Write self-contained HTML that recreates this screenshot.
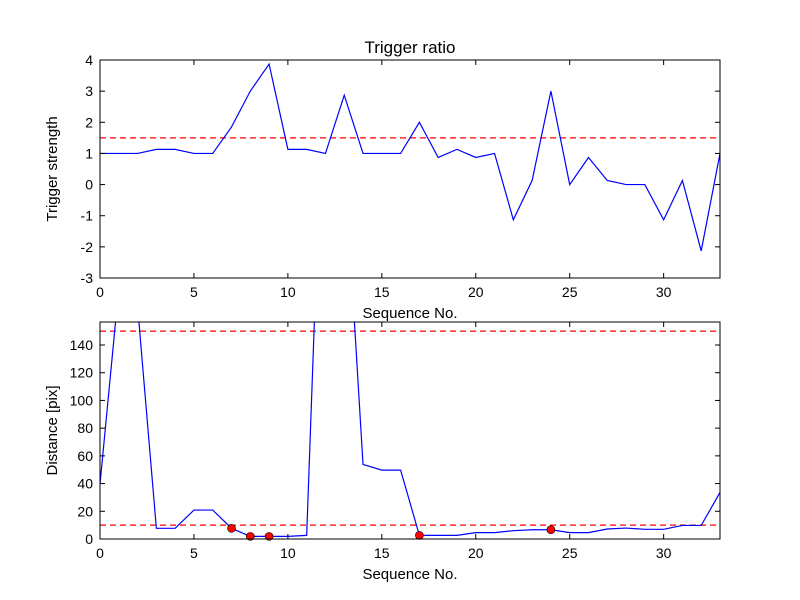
<!DOCTYPE html>
<html><head><meta charset="utf-8"><style>
body{margin:0;background:#fff}
svg{display:block;font-family:"Liberation Sans","DejaVu Sans",sans-serif}
</style></head><body>
<svg id="chart" width="800" height="600" viewBox="0 0 800 600"></svg>
<script>
const seqTop = [0,1,2,3,4,5,6,7,8,9,10,11,12,13,14,15,16,17,18,19,20,21,22,23,24,25,26,27,28,29,30,31,32,33];
const triggerStrength = [1,1,1,1.13,1.13,1,1,1.85,3,3.87,1.13,1.13,1,2.87,1,1,1,2,0.87,1.13,0.87,1,-1.13,0.13,3,0,0.87,0.13,0,0,-1.13,0.13,-2.13,1];
const triggerThreshold = 1.5;
const distance = [39.6,181,168,7.7,7.7,20.9,20.9,7.7,1.9,1.9,1.9,2.6,379,278,53.8,49.7,49.7,2.6,2.6,2.6,4.6,4.6,6,6.7,6.7,4.6,4.6,7.2,7.9,7,7,9.8,9.8,33.6];
const markerIdx = [7,8,9,17,24];
const distThresholds = [150,10];
const xTicks = [0,5,10,15,20,25,30];
const yTicksTop = [-3,-2,-1,0,1,2,3,4];
const yTicksBottom = [0,20,40,60,80,100,120,140];

const NS="http://www.w3.org/2000/svg";
const svgEl=document.getElementById('chart');
function mk(tag,attrs,parent){const e=document.createElementNS(NS,tag);for(const k in attrs)e.setAttribute(k,attrs[k]);(parent||svgEl).appendChild(e);return e;}

function panel(cfg){
  const L=cfg.L,R=cfg.R,T=cfg.T,B=cfg.B;
  const sx=v=>L+(v-cfg.xmin)/(cfg.xmax-cfg.xmin)*(R-L);
  const sy=v=>B-(v-cfg.ymin)/(cfg.ymax-cfg.ymin)*(B-T);
  const g=mk('g',{});
  
  
  const cp='clip-'+cfg.name;
  const d=mk('clipPath',{id:cp},g);mk('rect',{x:L,y:T,width:R-L,height:B-T},d);
  return Object.assign({g:g,sx:sx,sy:sy,cp:cp},cfg);
}
function axesFrame(p,yTicks,yLabel,xLabel){
  const g=p.g,sx=p.sx,sy=p.sy,L=p.L,R=p.R,T=p.T,B=p.B;
  xTicks.forEach(v=>{
    const x=sx(v);
    mk('line',{x1:x,x2:x,y1:B,y2:B-5,stroke:'#000'},g);
    mk('line',{x1:x,x2:x,y1:T,y2:T+5,stroke:'#000'},g);
    const t=mk('text',{x:x,y:B+19,'text-anchor':'middle','font-size':14},g);t.textContent=v;
    
    
  });
  yTicks.forEach(v=>{
    const y=sy(v);
    mk('line',{x1:L,x2:L+5,y1:y,y2:y,stroke:'#000'},g);
    mk('line',{x1:R,x2:R-5,y1:y,y2:y,stroke:'#000'},g);
    const t=mk('text',{x:L-7,y:y+5,'text-anchor':'end','font-size':14},g);t.textContent=v;
    
    
  });
  const f=mk('rect',{x:L,y:T,width:R-L,height:B-T,fill:'none',stroke:'#000','stroke-width':1},g);
  
  
  const yl=mk('text',{x:0,y:0,'text-anchor':'middle','font-size':15,transform:'translate('+(L-43)+','+((T+B)/2)+') rotate(-90)'},g);
  yl.textContent=yLabel;
  
  
  const xl=mk('text',{x:(L+R)/2,y:B+40,'text-anchor':'middle','font-size':15},g);
  xl.textContent=xLabel;
  
  
}
function hline(p,v){
  const l=mk('line',{x1:p.L,x2:p.R,y1:p.sy(v),y2:p.sy(v),stroke:'#f00','stroke-width':1.2,'stroke-dasharray':'6,4'},p.g);
  
  
}
function series(p,xs,ys){
  const pts=xs.map((x,i)=>p.sx(x).toFixed(2)+','+p.sy(ys[i]).toFixed(2)).join(' ');
  const l=mk('polyline',{points:pts,fill:'none',stroke:'#00f','stroke-width':1.2,'clip-path':'url(#'+p.cp+')'},p.g);
  
  
}

const topPanel=panel({L:100,R:720,T:60,B:278,xmin:0,xmax:33,ymin:-3,ymax:4,name:'trigger-panel'});
hline(topPanel,triggerThreshold);
series(topPanel,seqTop,triggerStrength);
axesFrame(topPanel,yTicksTop,'Trigger strength','Sequence No.');
const titleEl=mk('text',{x:410,y:53,'text-anchor':'middle','font-size':17});
titleEl.textContent='Trigger ratio';



const bottomPanel=panel({L:100,R:720,T:322,B:539,xmin:0,xmax:33,ymin:0,ymax:156.6,name:'distance-panel'});
distThresholds.forEach(v=>hline(bottomPanel,v));
series(bottomPanel,seqTop,distance);
markerIdx.forEach(i=>{
  const c=mk('circle',{cx:bottomPanel.sx(seqTop[i]),cy:bottomPanel.sy(distance[i]),r:4,fill:'#f00',stroke:'#000','stroke-width':0.6},bottomPanel.g);
  
  
});
axesFrame(bottomPanel,yTicksBottom,'Distance [pix]','Sequence No.');
</script>
</body></html>
